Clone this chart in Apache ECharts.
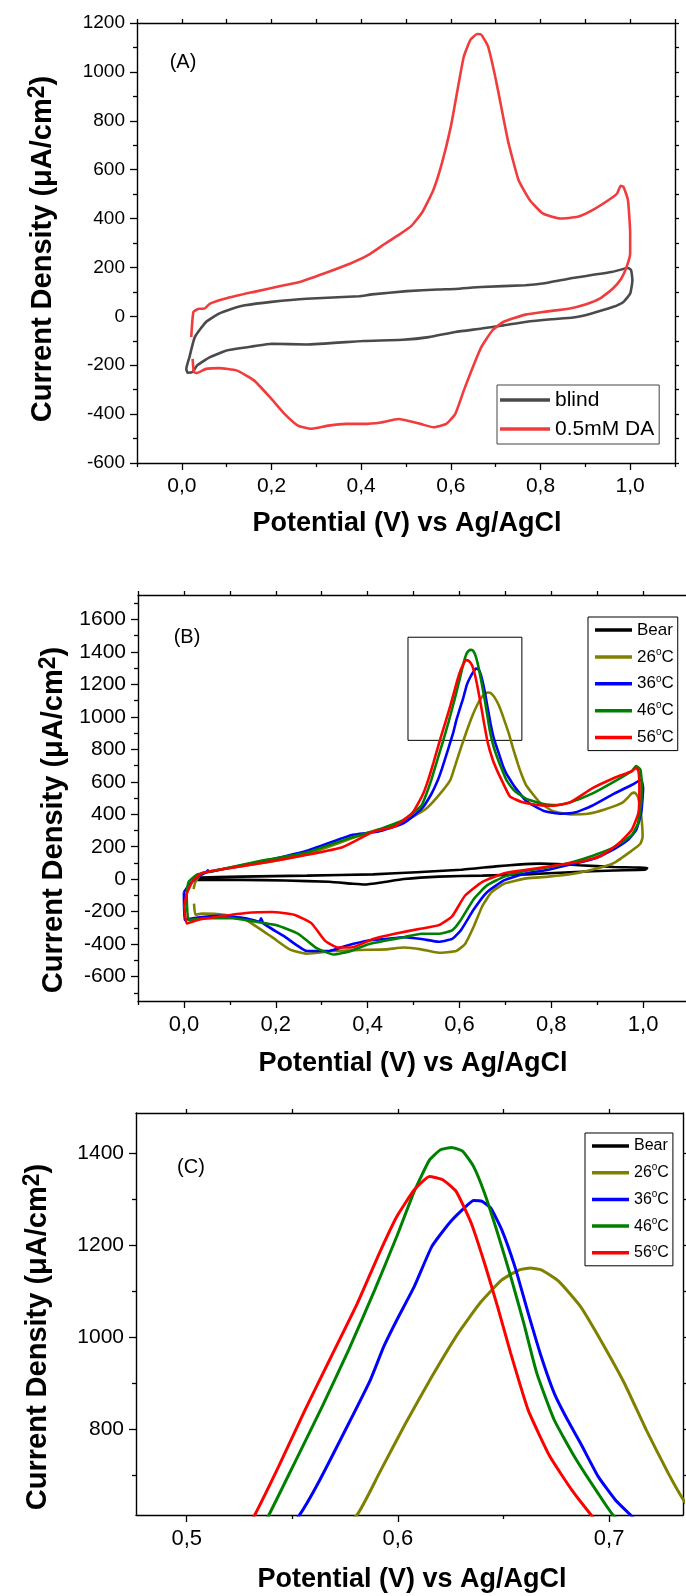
<!DOCTYPE html>
<html>
<head>
<meta charset="utf-8">
<script src="https://cdn.jsdelivr.net/npm/echarts@6/dist/echarts.min.js"></script>
<style>
  html, body { margin: 0; padding: 0; background: #ffffff; }
  #chart { width: 686px; height: 1596px; }
</style>
</head>
<body>
<div id="chart"></div>
<script>
// ---- Cyclic voltammograms: [potential (V), current density (µA/cm²)] in scan order ----

// (A) electrode without and with 0.5 mM dopamine
const blindCurve = [[0.017,-167],[0.029,-85],[0.054,-23],[0.083,11],[0.112,31],[0.141,45],[0.2,59],[0.278,72],[0.395,82],[0.424,90],[0.502,103],[0.571,110],[0.61,112],[0.668,120],[0.766,127],[0.805,134],[0.863,154],[0.961,182],[0.995,198],[1.002,189],[1.005,148],[1.0,93],[0.985,59],[0.961,38],[0.912,11],[0.873,-5],[0.824,-12],[0.766,-23],[0.717,-37],[0.668,-50],[0.61,-64],[0.551,-85],[0.493,-96],[0.405,-101],[0.278,-115],[0.2,-112],[0.161,-122],[0.102,-139],[0.063,-167],[0.034,-201],[0.024,-228],[0.013,-231],[0.01,-215],[0.017,-167]];

const daCurve = [[0.021,-85],[0.026,18],[0.039,31],[0.049,31],[0.063,52],[0.102,75],[0.161,100],[0.22,124],[0.259,138],[0.317,175],[0.376,216],[0.415,250],[0.454,298],[0.483,332],[0.512,370],[0.537,428],[0.561,517],[0.58,626],[0.6,776],[0.615,927],[0.629,1063],[0.644,1132],[0.659,1155],[0.668,1152],[0.683,1104],[0.702,954],[0.727,722],[0.751,558],[0.776,476],[0.805,421],[0.844,400],[0.883,407],[0.922,441],[0.961,487],[0.971,503],[0.979,534],[0.985,530],[0.995,476],[1.0,339],[1.0,257],[0.992,202],[0.98,154],[0.961,113],[0.932,72],[0.902,49],[0.863,31],[0.805,18],[0.766,7],[0.717,-23],[0.693,-57],[0.668,-126],[0.649,-208],[0.629,-303],[0.61,-399],[0.59,-440],[0.561,-454],[0.532,-440],[0.483,-420],[0.444,-434],[0.405,-440],[0.366,-440],[0.327,-447],[0.288,-460],[0.259,-447],[0.229,-399],[0.2,-338],[0.161,-262],[0.122,-221],[0.083,-212],[0.054,-215],[0.034,-232],[0.027,-228],[0.024,-174]];

// (B)/(C) bare electrode and dopamine at four temperatures
const bearCurve = [[0.02,9],[0.125,16],[0.268,22],[0.412,30],[0.507,43],[0.603,58],[0.679,79],[0.727,90],[0.775,96],[0.813,94],[0.861,86],[0.937,75],[1.009,69],[1.004,58],[0.937,54],[0.841,43],[0.746,30],[0.65,22],[0.555,16],[0.479,1],[0.431,-20],[0.393,-33],[0.364,-27],[0.316,-16],[0.221,-8],[0.125,-4],[0.02,-4]];

const t26Curve = [[0.021,-60],[0.025,-16],[0.039,37],[0.077,58],[0.173,101],[0.268,154],[0.364,250],[0.421,303],[0.479,356],[0.526,431],[0.553,510],[0.5804,612],[0.5912,704],[0.6036,812],[0.6161,914],[0.6285,1008],[0.6389,1074],[0.6492,1124],[0.6575,1146],[0.6627,1150],[0.6679,1146],[0.6762,1121],[0.6865,1066],[0.6969,986],[0.7073,899],[0.7176,798],[0.728,704],[0.7348,649],[0.746,575],[0.775,473],[0.803,420],[0.841,399],[0.88,403],[0.918,431],[0.956,473],[0.975,527],[0.982,533],[0.989,505],[0.996,388],[0.999,260],[0.994,218],[0.975,175],[0.937,101],[0.889,58],[0.841,30],[0.794,16],[0.746,5],[0.698,-27],[0.67,-80],[0.65,-165],[0.631,-293],[0.612,-400],[0.593,-442],[0.555,-453],[0.517,-432],[0.479,-421],[0.44,-432],[0.383,-436],[0.326,-442],[0.268,-459],[0.23,-432],[0.192,-357],[0.135,-251],[0.087,-219],[0.039,-212],[0.025,-219],[0.022,-150]];

const t36Curve = [[0.0,-80],[0.0105,-38],[0.03,15],[0.049,43],[0.052,55],[0.055,45],[0.077,58],[0.173,111],[0.268,175],[0.364,271],[0.421,292],[0.479,346],[0.517,431],[0.538,520],[0.5533,612],[0.5622,682],[0.5767,812],[0.587,907],[0.5933,979],[0.5995,1037],[0.6078,1110],[0.6161,1197],[0.6244,1248],[0.6306,1277],[0.6358,1297],[0.6399,1295],[0.644,1280],[0.6492,1233],[0.6554,1153],[0.6617,1052],[0.6679,957],[0.6741,877],[0.6803,820],[0.6865,769],[0.6948,697],[0.7031,645],[0.7104,612],[0.72,570],[0.746,480],[0.784,420],[0.822,403],[0.851,410],[0.889,452],[0.937,527],[0.975,580],[0.996,612],[1.0,559],[0.996,410],[0.985,303],[0.966,239],[0.937,186],[0.889,122],[0.841,90],[0.794,58],[0.746,37],[0.698,-6],[0.66,-80],[0.631,-187],[0.603,-315],[0.584,-368],[0.555,-385],[0.517,-368],[0.479,-357],[0.44,-368],[0.402,-378],[0.354,-410],[0.316,-442],[0.268,-442],[0.221,-357],[0.173,-272],[0.168,-240],[0.165,-262],[0.135,-240],[0.077,-225],[0.03,-236],[0.001,-251],[0.0,-80]];

const t46Curve = [[0.006,-80],[0.0105,-16],[0.03,30],[0.077,58],[0.173,116],[0.268,165],[0.364,256],[0.421,303],[0.479,367],[0.517,452],[0.53,540],[0.5388,612],[0.5518,733],[0.5642,849],[0.5767,972],[0.5891,1103],[0.5995,1219],[0.6078,1317],[0.615,1385],[0.6202,1407],[0.6254,1412],[0.6306,1404],[0.6358,1371],[0.641,1313],[0.6472,1226],[0.6534,1132],[0.6596,1030],[0.6658,921],[0.6741,819],[0.6845,733],[0.6948,660],[0.7021,612],[0.72,545],[0.746,495],[0.784,463],[0.813,457],[0.841,473],[0.889,527],[0.937,601],[0.975,665],[0.985,697],[0.994,676],[0.997,601],[0.996,473],[0.989,346],[0.975,271],[0.937,197],[0.889,143],[0.841,101],[0.794,73],[0.746,52],[0.698,16],[0.66,-38],[0.631,-123],[0.603,-251],[0.584,-315],[0.555,-336],[0.517,-336],[0.479,-357],[0.44,-378],[0.402,-400],[0.364,-442],[0.326,-464],[0.287,-421],[0.249,-336],[0.202,-283],[0.154,-261],[0.106,-240],[0.049,-240],[0.0105,-251],[0.006,-80]];

const t56Curve = [[0.001,-165],[0.006,-91],[0.02,-6],[0.039,37],[0.077,58],[0.173,101],[0.268,150],[0.345,197],[0.412,292],[0.459,324],[0.498,410],[0.52,520],[0.5321,612],[0.5435,718],[0.556,841],[0.5684,957],[0.5808,1073],[0.5912,1182],[0.5995,1262],[0.6078,1320],[0.615,1349],[0.6212,1342],[0.6275,1317],[0.6347,1248],[0.641,1161],[0.6472,1066],[0.6534,965],[0.6617,841],[0.672,740],[0.6824,667],[0.6917,612],[0.71,510],[0.736,475],[0.775,455],[0.803,452],[0.841,473],[0.889,559],[0.937,623],[0.975,665],[0.985,686],[0.99,665],[0.992,559],[0.99,410],[0.975,303],[0.946,218],[0.908,143],[0.87,111],[0.822,90],[0.746,58],[0.698,37],[0.65,-16],[0.612,-102],[0.584,-229],[0.555,-283],[0.517,-304],[0.459,-336],[0.412,-368],[0.364,-421],[0.335,-421],[0.307,-378],[0.278,-272],[0.24,-219],[0.192,-202],[0.135,-208],[0.077,-230],[0.03,-251],[0.006,-272],[0.001,-165]];

// Series names and the zoomed region [x0, x1, y0, y1] marked in (B)
const seriesNamesA = ['blind', '0.5mM DA'];
const seriesNamesT = ['Bear', '26°C', '36°C', '46°C', '56°C'];
const zoomBox = [0.488, 0.736, 855, 1490];

// Tick values
const potentialTicks = [0, 0.2, 0.4, 0.6, 0.8, 1.0];
const potentialMinor = [-0.1, 0.1, 0.3, 0.5, 0.7, 0.9, 1.1];
const currentTicksA = [-600, -400, -200, 0, 200, 400, 600, 800, 1000, 1200];
const currentMinorA = [-500, -300, -100, 100, 300, 500, 700, 900, 1100];
const currentTicksB = [-600, -400, -200, 0, 200, 400, 600, 800, 1000, 1200, 1400, 1600];
const currentMinorB = [-700, -500, -300, -100, 100, 300, 500, 700, 900, 1100, 1300, 1500, 1700];
const potentialTicksC = [0.5, 0.6, 0.7];
const potentialMinorC = [0.55, 0.65];
const currentTicksC = [800, 1000, 1200, 1400];
const currentMinorC = [700, 900, 1100, 1300];

const FONT = "'Liberation Sans', Arial, Helvetica, sans-serif";
const commaFmt = v => v.toFixed(1).replace('.', ',');
const plainFmt = v => String(Math.round(v));

const grids = [], xAxes = [], yAxes = [];

function addPanel(p) {
  const g = grids.length;
  grids.push({ left: p.left, top: p.top, width: p.width, height: p.height, outerBoundsMode: 'none' });
  const axisLine = { show: true, onZero: false, lineStyle: { color: '#000', width: 1.4 } };
  const noLine = { show: false, onZero: false };
  const tickStyle = { color: '#000', width: 1.3 };
  const xi = xAxes.length, yi = yAxes.length;
  const base = (min, max) => ({ type: 'value', gridIndex: g, min: min, max: max, splitLine: { show: false } });

  xAxes.push(
    Object.assign(base(p.x[0], p.x[1]), {
      position: 'bottom', axisLine: axisLine,
      axisTick: { show: true, inside: false, length: 7, customValues: p.xMajor, lineStyle: tickStyle },
      axisLabel: { show: true, customValues: p.xMajor, formatter: commaFmt, fontSize: p.xFont, fontFamily: FONT, color: '#000', margin: 13 }
    }),
    Object.assign(base(p.x[0], p.x[1]), {
      position: 'bottom', axisLine: noLine,
      axisTick: { show: true, inside: false, length: 4, customValues: p.xMinor, lineStyle: tickStyle },
      axisLabel: { show: false }
    }),
    Object.assign(base(p.x[0], p.x[1]), {
      position: 'top', axisLine: axisLine,
      axisTick: { show: true, inside: false, length: 4, customValues: p.xMajor.concat(p.xMinor), lineStyle: tickStyle },
      axisLabel: { show: false }
    })
  );
  yAxes.push(
    Object.assign(base(p.y[0], p.y[1]), {
      position: 'left', axisLine: axisLine,
      axisTick: { show: true, inside: false, length: 7, customValues: p.yMajor, lineStyle: tickStyle },
      axisLabel: { show: true, customValues: p.yMajor, formatter: plainFmt, fontSize: p.yFont, fontFamily: FONT, color: '#000', margin: 12 }
    }),
    Object.assign(base(p.y[0], p.y[1]), {
      position: 'left', axisLine: noLine,
      axisTick: { show: true, inside: false, length: 4, customValues: p.yMinor, lineStyle: tickStyle },
      axisLabel: { show: false }
    }),
    Object.assign(base(p.y[0], p.y[1]), {
      position: 'right', axisLine: axisLine,
      axisTick: { show: true, inside: false, length: 4, customValues: p.yMajor.concat(p.yMinor), lineStyle: tickStyle },
      axisLabel: { show: false }
    })
  );
  return { x: xi, y: yi };
}

const axA = addPanel({ left: 137, top: 23, width: 538, height: 440, x: [-0.1, 1.1], y: [-600, 1200],
  xMajor: potentialTicks, xMinor: potentialMinor, yMajor: currentTicksA, yMinor: currentMinorA, xFont: 21, yFont: 19 });
const axB = addPanel({ left: 138, top: 595, width: 551, height: 406, x: [-0.1, 1.1], y: [-750, 1750],
  xMajor: potentialTicks, xMinor: potentialMinor, yMajor: currentTicksB, yMinor: currentMinorB, xFont: 22, yFont: 21 });
const axC = addPanel({ left: 136, top: 1113, width: 547, height: 402, x: [0.476, 0.735], y: [613, 1487],
  xMajor: potentialTicksC, xMinor: potentialMinorC, yMajor: currentTicksC, yMinor: currentMinorC, xFont: 22, yFont: 21 });

function cv(name, data, color, ax, width, extra) {
  return Object.assign({
    type: 'line', name: name, data: data, xAxisIndex: ax.x, yAxisIndex: ax.y,
    color: color, showSymbol: false, symbol: 'none', smooth: 0.15, clip: true,
    lineStyle: { color: color, width: width }
  }, extra || {});
}

const tempColors = ['#000000', '#808000', '#0000ff', '#008000', '#ff0000'];
const tempCurves = [bearCurve, t26Curve, t36Curve, t46Curve, t56Curve];

const series = [
  cv(seriesNamesA[0], blindCurve, '#4a4a4a', axA, 2.6),
  cv(seriesNamesA[1], daCurve, '#f03c3c', axA, 2.6)
];
tempCurves.forEach((d, i) => {
  const extra = i === 0 ? {
    markArea: {
      silent: true,
      itemStyle: { color: 'rgba(0,0,0,0)', borderColor: '#000', borderWidth: 1 },
      data: [[{ coord: [zoomBox[0], zoomBox[3]] }, { coord: [zoomBox[1], zoomBox[2]] }]]
    }
  } : {};
  series.push(cv(seriesNamesT[i], d, tempColors[i], axB, 2.6, extra));
});
tempCurves.forEach((d, i) => series.push(cv(seriesNamesT[i], d, tempColors[i], axC, 3)));

const supName = n => n.replace('°', '{sup|o}');
function tempLegend(left, top, gap, fs) {
  return {
    data: seriesNamesT, orient: 'vertical', left: left, top: top, selectedMode: false,
    icon: 'rect', itemWidth: 37, itemHeight: 3.5, itemGap: gap,
    padding: [3, 4, 3, 7], borderColor: '#000', borderWidth: 1, backgroundColor: '#fff',
    formatter: supName,
    textStyle: { fontSize: fs, fontFamily: FONT, color: '#000', lineHeight: 20,
      rich: { sup: { fontSize: 10, fontFamily: FONT, color: '#000', lineHeight: 11, verticalAlign: 'top' } } }
  };
}

const legends = [
  {
    data: seriesNamesA, orient: 'vertical', left: 497, top: 385, selectedMode: false,
    icon: 'rect', itemWidth: 50, itemHeight: 3.5, itemGap: 5, padding: [3, 5, 3, 3],
    borderColor: '#444', borderWidth: 1, backgroundColor: '#fff',
    textStyle: { fontSize: 21, fontFamily: FONT, color: '#000', lineHeight: 24 }
  },
  tempLegend(588, 617, 6.9, 17),
  tempLegend(585, 1133, 6.7, 16)
];

const yTitle = 'Current Density (μA/cm{sup|2})';
const xTitle = 'Potential (V) vs Ag/AgCl';
function vText(x, y) {
  return { type: 'text', x: x, y: y, rotation: Math.PI / 2, silent: true,
    style: { text: yTitle, fontSize: 29, fontWeight: 'bold', fontFamily: FONT, fill: '#000',
      align: 'center', verticalAlign: 'middle', lineHeight: 34,
      rich: { sup: { fontSize: 23, fontWeight: 'bold', fontFamily: FONT, fill: '#000', lineHeight: 22, verticalAlign: 'top' } } } };
}
function hText(x, y, text, size, weight) {
  return { type: 'text', x: x, y: y, silent: true,
    style: { text: text, fontSize: size, fontWeight: weight, fontFamily: FONT, fill: '#000', align: 'center', verticalAlign: 'middle' } };
}

const graphic = [
  vText(43, 249), vText(54, 820), vText(38, 1337),
  hText(407, 524, xTitle, 27, 'bold'), hText(413, 1064, xTitle, 27, 'bold'), hText(412, 1580, xTitle, 27, 'bold'),
  hText(183, 62, '(A)', 20, 'normal'), hText(187, 637, '(B)', 20, 'normal'), hText(191, 1167, '(C)', 20, 'normal')
];

const chart = echarts.init(document.getElementById('chart'), null, { renderer: 'canvas' });
chart.setOption({
  animation: false,
  backgroundColor: '#ffffff',
  grid: grids,
  xAxis: xAxes,
  yAxis: yAxes,
  legend: legends,
  series: series,
  graphic: graphic
});
</script>
</body>
</html>
